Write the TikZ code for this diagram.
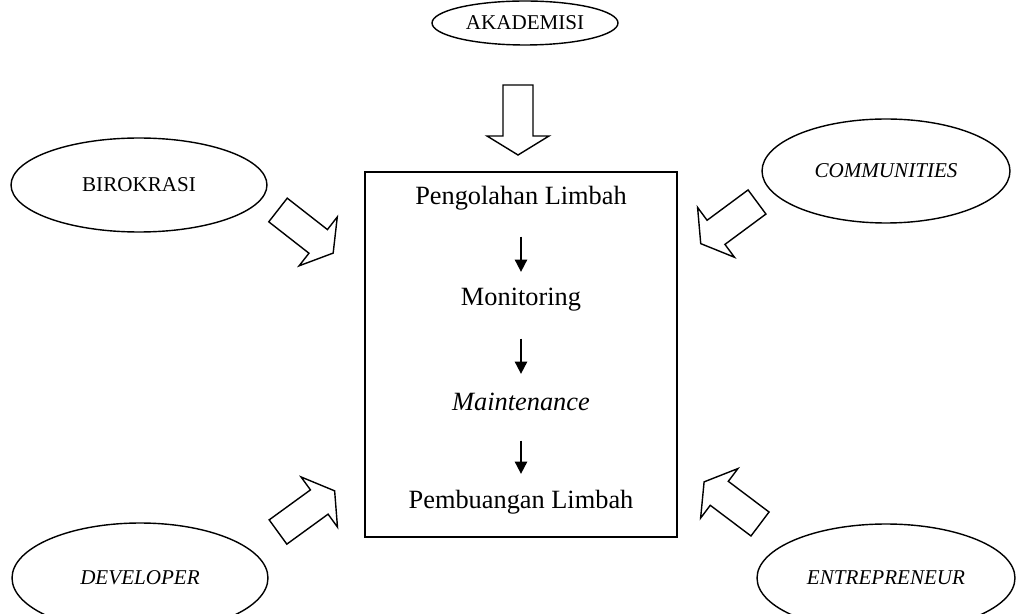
\documentclass[tikz,border=0pt]{standalone}
\usepackage{fontspec}
\setmainfont{Liberation Serif}
\usetikzlibrary{arrows.meta,positioning,shapes.geometric}

\tikzset{
  aktor/.style={draw, ellipse, line width=0.8pt, inner sep=0pt, font=\fontsize{12}{14}\selectfont},
  proses/.style={font=\fontsize{15}{18}\selectfont},
  alur/.style={-{Triangle[width=7pt,length=7pt]}, line width=1pt, shorten <=22pt, shorten >=16pt},
  blokpanah/.pic={
    \draw[line width=0.8pt, line join=miter] (0,-15) -- (51,-15) -- (51,-31) -- (70,0)
      -- (51,31) -- (51,15) -- (0,15) -- cycle;
  }
}

\begin{document}
\begin{tikzpicture}[x=0.02cm,y=-0.02cm]
  \clip (0,0) rectangle (1016,614);
  \useasboundingbox (0,0) rectangle (1016,614);

  % pihak yang terlibat
  \node[aktor, minimum width=3.72cm, minimum height=0.88cm] (akad) at (525,23) {AKADEMISI};
  \node[aktor, minimum width=5.12cm, minimum height=1.88cm] (biro) at (139,185) {BIROKRASI};
  \node[aktor, minimum width=4.96cm, minimum height=2.08cm] (komu) at (886,171) {\textit{COMMUNITIES}};
  \node[aktor, minimum width=5.12cm, minimum height=2.2cm] (deve) at (140,578) {\textit{DEVELOPER}};
  \node[aktor, minimum width=5.16cm, minimum height=2.16cm] (entr) at (886,578) {\textit{ENTREPRENEUR}};

  % kotak proses
  \node[draw, line width=1.2pt, minimum width=6.24cm, minimum height=7.3cm] (sistem) at (521,354.5) {};
  \node[proses] (olah) at (521,198) {Pengolahan Limbah};
  \node[proses] (moni) at (521,300) {Monitoring};
  \node[proses] (main) at (521,402) {\textit{Maintenance}};
  \node[proses] (buang) at (521,502) {Pembuangan Limbah};

  \draw[alur] (olah.center) -- (moni.center);
  \draw[alur] (moni.center) -- (main.center);
  \draw[alur] (main.center) -- (buang.center);

  % panah blok ke kotak
  \pic[rotate=-90] (pAkad) at (518,85) {blokpanah};
  \pic[rotate=-38] (pBiro) at (278,210) {blokpanah};
  \pic[rotate=-143.5] (pKomu) at (757,202) {blokpanah};
  \pic[rotate=36] (pDeve) at (278,532) {blokpanah};
  \pic[rotate=143] (pEntr) at (760,524) {blokpanah};
\end{tikzpicture}
\end{document}
